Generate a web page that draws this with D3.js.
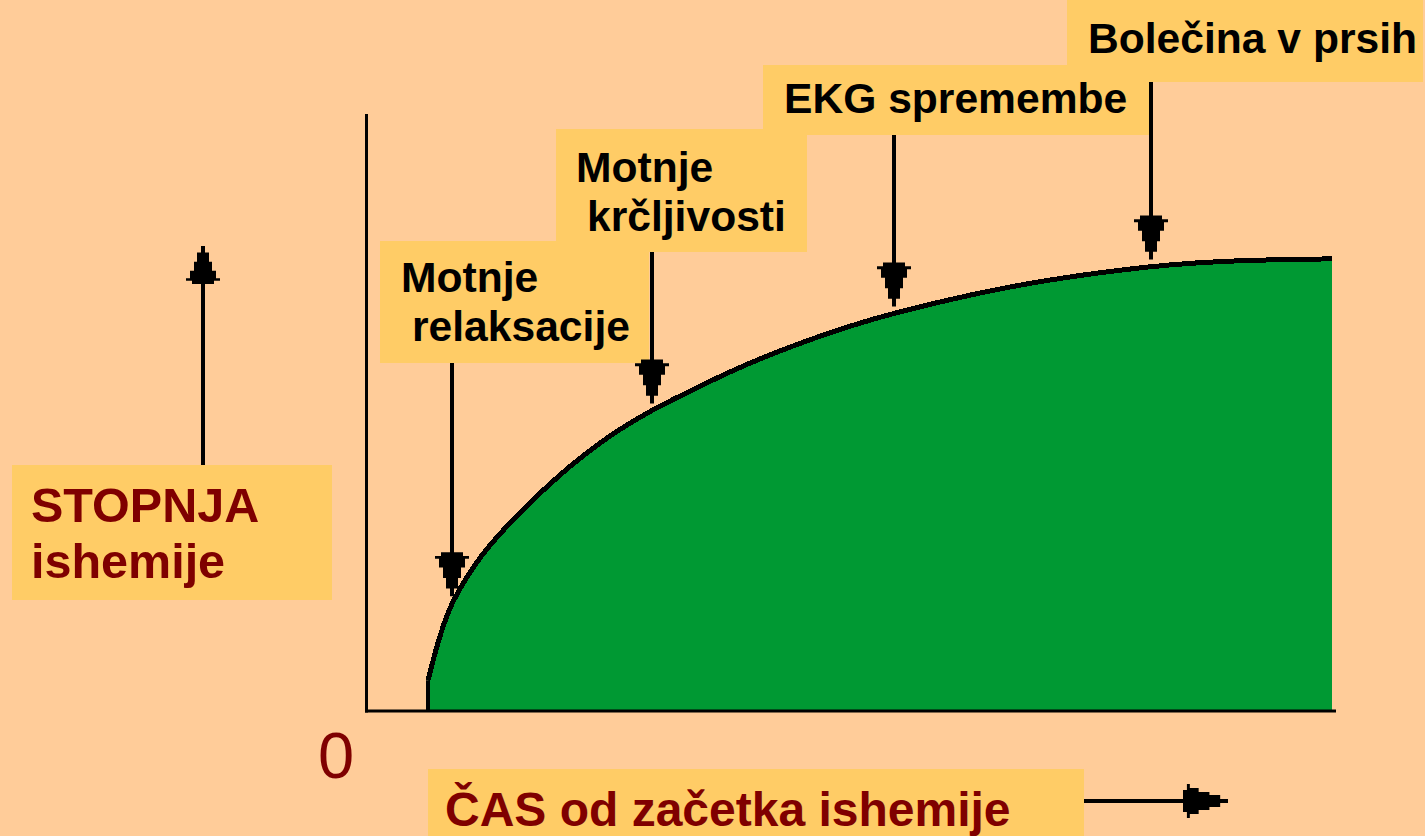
<!DOCTYPE html>
<html>
<head>
<meta charset="utf-8">
<script src="https://cdn.jsdelivr.net/npm/d3@7"></script>
<style>
  body { margin: 0; background: #FFCC99; }
  svg { display: block; font-family: "Liberation Sans", Arial, Helvetica, sans-serif; }
</style>
</head>
<body>
<div id="main-chart"></div>
<script>
// ischemia curve (time 0-100, degree 0-100)
const timeValues     = [6.3, 6.8, 7.2, 7.9, 8.6, 9.3, 10.3, 11.7, 13.4, 15.8, 18.2, 21.0, 24.1, 26.4, 29.2, 31.6, 35.1, 38.5, 41.9, 45.5, 48.9, 52.3, 54.3, 60.2, 65.4, 70.6, 75.7, 80.9, 85.1, 91.2, 99.7];
const ischemiaValues = [5.5, 8.6, 11.1, 14.8, 17.8, 20.0, 22.8, 26.2, 29.5, 33.7, 37.4, 41.5, 45.4, 47.9, 50.6, 52.6, 55.4, 58.0, 60.3, 62.5, 64.4, 66.1, 67.0, 69.4, 71.2, 72.7, 73.9, 74.9, 75.5, 76.0, 76.2];

// events along the curve
const eventTimes  = [8.8, 29.4, 54.4, 81.0];
const eventLabels = [["Motnje", "relaksacije"], ["Motnje", "krčljivosti"], ["EKG spremembe"], ["Bolečina v prsih"]];

const yAxisLabel = ["STOPNJA", "ishemije"];
const xAxisLabel = "ČAS od začetka ishemije";
const originLabel = "0";

// layout of the label boxes (pixels)
const eventBoxes = [
    { x: 380,  y: 241, w: 269, h: 122, lines: [[401, 292], [412, 341]] },
    { x: 556,  y: 129, w: 251, h: 123, lines: [[576, 182], [587, 231]] },
    { x: 763,  y: 65,  w: 387, h: 70,  lines: [[784, 113]] },
    { x: 1067, y: 0,   w: 356, h: 82,  lines: [[1088, 53]] }
];

const width = 1425;
const height = 836;
const boxColor = '#FFCC66';
const darkRed = '#7F0000';

const svg = d3.select('#main-chart')
    .append('svg')
    .attr('width', width)
    .attr('height', height);

svg.append('rect').attr('width', width).attr('height', height).attr('fill', '#FFCC99');

const xScale = d3.scaleLinear().domain([0, 100]).range([367, 1335]);
const yScale = d3.scaleLinear().domain([0, 100]).range([711, 115]);

const curveData = timeValues.map((t, i) => ({ t: t, v: ischemiaValues[i] }));

// value of the curve at time t (for arrow tips)
function curveAt(t) {
    const i = d3.bisector(d => d.t).right(curveData, t);
    const a = curveData[Math.max(0, i - 1)], b = curveData[Math.min(curveData.length - 1, i)];
    if (a.t === b.t) return a.v;
    return a.v + (b.v - a.v) * (t - a.t) / (b.t - a.t);
}

// stepped arrow head, tip at (0,0) pointing down
function headPath(len) {
    const rows = [[0, 4, 11], [4, 7, 17], [7, 16, 13], [16, 27, 9], [27, 38, 6], [38, 46, 2]];
    const k = len / 46;
    let right = [], left = [];
    rows.forEach(([a, b, hw]) => {
        right.push([hw, (a - 46) * k], [hw, (b - 46) * k]);
        left.unshift([-hw, (b - 46) * k], [-hw, (a - 46) * k]);
    });
    return 'M' + right.concat(left).map(p => p.join(',')).join('L') + 'Z';
}

// green area + outline
const area = d3.area()
    .x(d => xScale(d.t))
    .y0(yScale(0))
    .y1(d => yScale(d.v) + 3)
    .curve(d3.curveBasis);

const line = d3.line()
    .x(d => xScale(d.t))
    .y(d => yScale(d.v) + 2)
    .curve(d3.curveBasis);

svg.append('path')
    .datum(curveData)
    .attr('d', area)
    .attr('fill', '#009933')
    .attr('shape-rendering', 'crispEdges');

svg.append('path')
    .datum(curveData)
    .attr('d', line)
    .attr('fill', 'none')
    .attr('stroke', 'black')
    .attr('stroke-width', 5)
    .attr('shape-rendering', 'crispEdges');

svg.append('line')
    .attr('x1', xScale(timeValues[0])).attr('x2', xScale(timeValues[0]))
    .attr('y1', yScale(0)).attr('y2', yScale(ischemiaValues[0]) + 2)
    .attr('stroke', 'black').attr('stroke-width', 4);

// axes
svg.append('line')
    .attr('x1', 366.5).attr('x2', 366.5)
    .attr('y1', yScale(100) - 1).attr('y2', yScale(0) + 1.5)
    .attr('stroke', 'black').attr('stroke-width', 3);
svg.append('line')
    .attr('x1', 365).attr('x2', 1336)
    .attr('y1', yScale(0)).attr('y2', yScale(0))
    .attr('stroke', 'black').attr('stroke-width', 3);

// label boxes and arrows
eventTimes.forEach((t, i) => {
    const box = eventBoxes[i];
    svg.append('rect')
        .attr('x', box.x).attr('y', box.y)
        .attr('width', box.w).attr('height', box.h)
        .attr('fill', boxColor);
});

eventTimes.forEach((t, i) => {
    const box = eventBoxes[i];
    const ax = Math.round(xScale(t));
    const tipY = yScale(curveAt(t)) - 5;

    svg.append('line')
        .attr('x1', ax).attr('x2', ax)
        .attr('y1', box.y + box.h).attr('y2', tipY - 20)
        .attr('stroke', 'black').attr('stroke-width', 4);

    svg.append('path')
        .attr('d', headPath(44))
        .attr('transform', `translate(${ax},${tipY})`)
        .attr('fill', 'black');

    eventLabels[i].forEach((txt, j) => {
        svg.append('text')
            .attr('x', box.lines[j][0]).attr('y', box.lines[j][1])
            .attr('font-size', 42.6).attr('font-weight', 'bold')
            .attr('fill', 'black')
            .text(txt);
    });
});

// y axis title with arrow
svg.append('rect').attr('x', 12).attr('y', 465).attr('width', 320).attr('height', 135).attr('fill', boxColor);
yAxisLabel.forEach((txt, j) => {
    svg.append('text')
        .attr('x', 31).attr('y', 522 + j * 56)
        .attr('font-size', 48.5).attr('font-weight', 'bold')
        .attr('fill', darkRed)
        .text(txt);
});
svg.append('line').attr('x1', 203).attr('x2', 203).attr('y1', 465).attr('y2', 270)
    .attr('stroke', 'black').attr('stroke-width', 4);
svg.append('path')
    .attr('d', headPath(38))
    .attr('transform', 'translate(203,246) rotate(180)')
    .attr('fill', 'black');

// x axis title with arrow
svg.append('rect').attr('x', 428).attr('y', 769).attr('width', 656).attr('height', 67).attr('fill', boxColor);
svg.append('text')
    .attr('x', 445).attr('y', 826)
    .attr('font-size', 48).attr('font-weight', 'bold')
    .attr('fill', darkRed)
    .text(xAxisLabel);
svg.append('line').attr('x1', 1084).attr('x2', 1200).attr('y1', 801).attr('y2', 801)
    .attr('stroke', 'black').attr('stroke-width', 4);
svg.append('path')
    .attr('d', headPath(45))
    .attr('transform', 'translate(1228,801) rotate(-90)')
    .attr('fill', 'black');

// origin
svg.append('text')
    .attr('x', 318).attr('y', 778)
    .attr('font-size', 65)
    .attr('fill', darkRed)
    .text(originLabel);
</script>
</body>
</html>
